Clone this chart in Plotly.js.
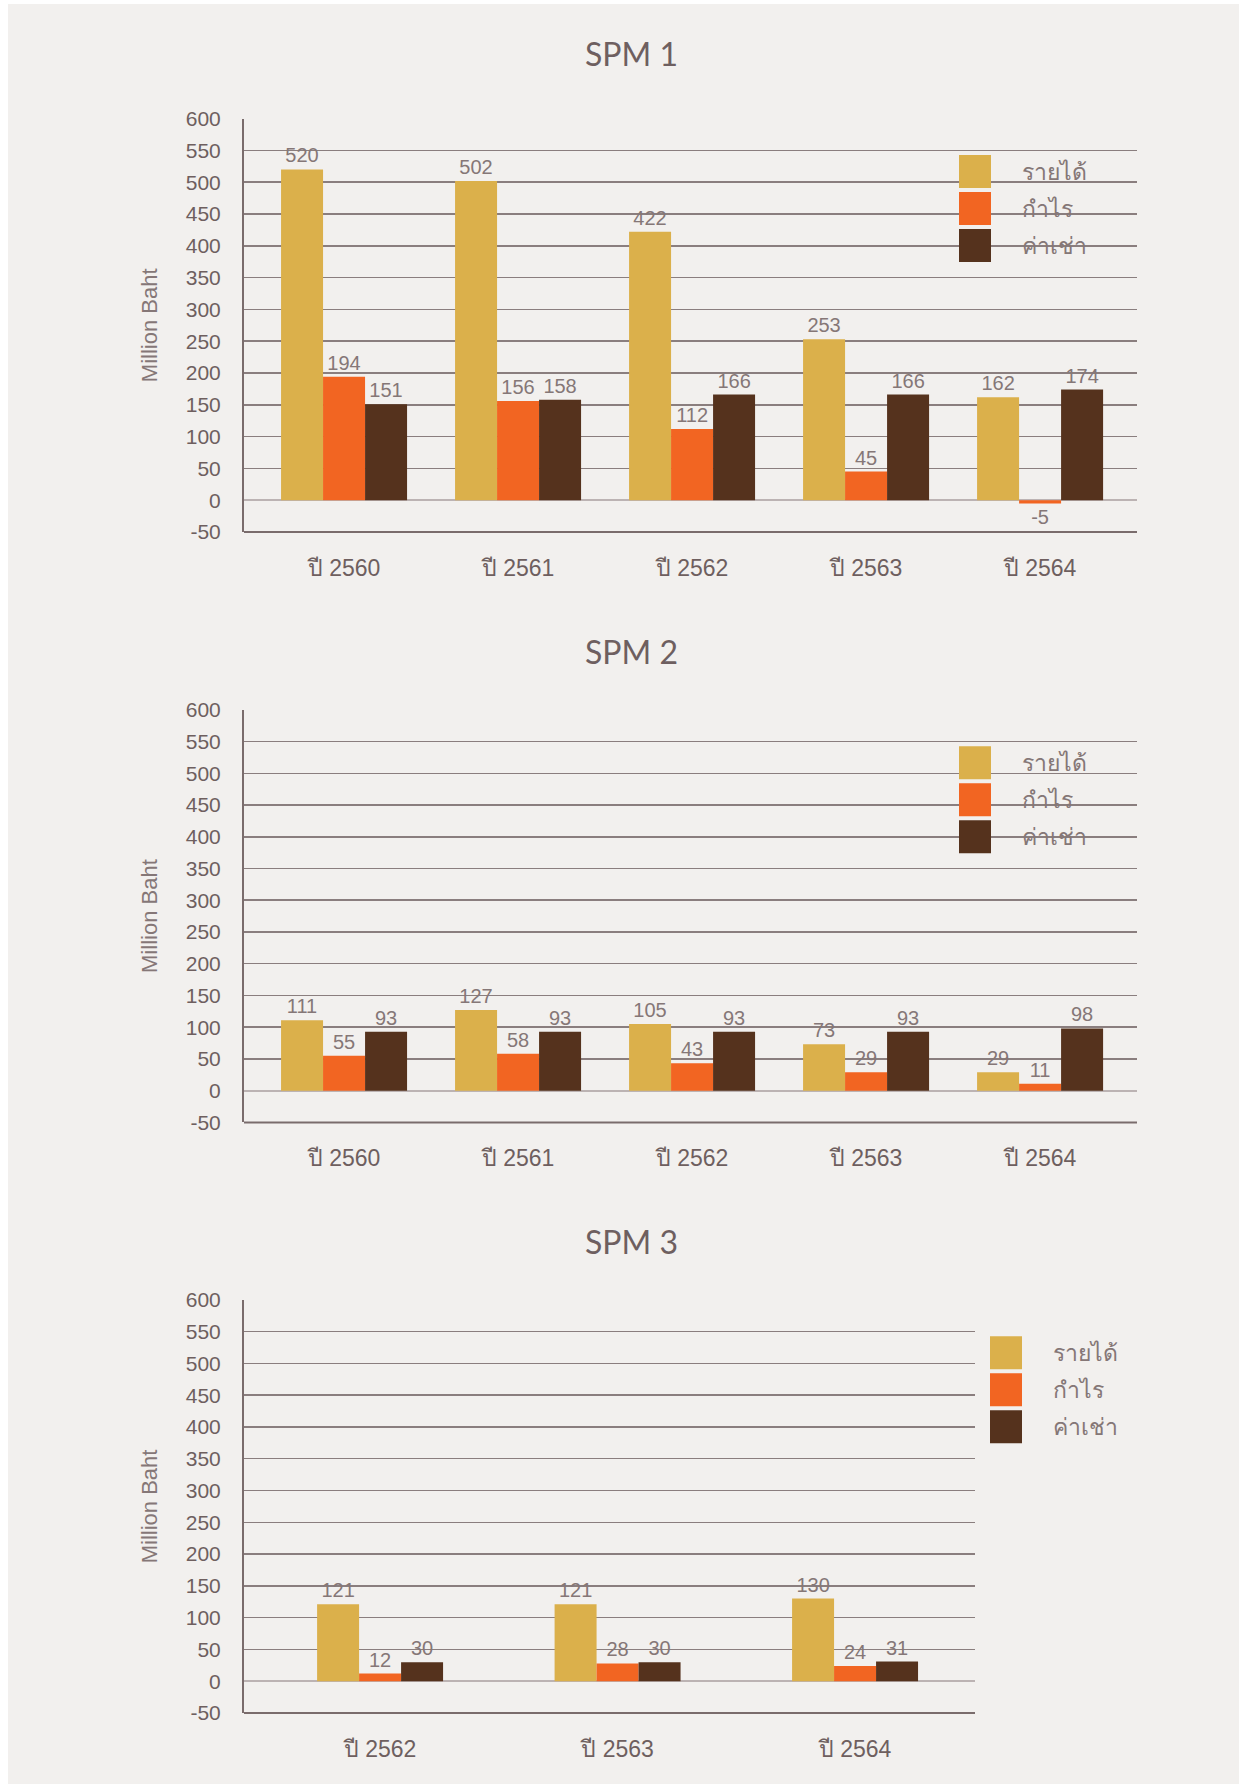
<!DOCTYPE html>
<html>
<head>
<meta charset="utf-8">
<script src="https://cdn.plot.ly/plotly-3.0.1.min.js"></script>
<style>
html,body{margin:0;padding:0;background:#ffffff;}
#chart{width:1253px;height:1784px;}
</style>
</head>
<body>
<div id="chart"></div>
<script>
// ---- Data ----
const seriesNames = ['รายได้', 'กำไร', 'ค่าเช่า'];
const seriesColors = ['#dbb04b', '#f26522', '#55321d'];

const spm1Title = 'SPM 1';
const spm1Categories = ['ปี 2560', 'ปี 2561', 'ปี 2562', 'ปี 2563', 'ปี 2564'];
const spm1Revenue = [520, 502, 422, 253, 162];
const spm1Profit = [194, 156, 112, 45, -5];
const spm1Rent = [151, 158, 166, 166, 174];

const spm2Title = 'SPM 2';
const spm2Categories = ['ปี 2560', 'ปี 2561', 'ปี 2562', 'ปี 2563', 'ปี 2564'];
const spm2Revenue = [111, 127, 105, 73, 29];
const spm2Profit = [55, 58, 43, 29, 11];
const spm2Rent = [93, 93, 93, 93, 98];

const spm3Title = 'SPM 3';
const spm3Categories = ['ปี 2562', 'ปี 2563', 'ปี 2564'];
const spm3Revenue = [121, 121, 130];
const spm3Profit = [12, 28, 24];
const spm3Rent = [30, 30, 31];

const yTickVals = [-50, 0, 50, 100, 150, 200, 250, 300, 350, 400, 450, 500, 550, 600];
const yAxisTitle = 'Million Baht';

// ---- Layout geometry (pixels) ----
const W = 1253, H = 1784;
const TEXT = '#6e5f5f';
const LABEL = '#857777';
const GRID = '#8a7e7e';

const panels = [
  {title: spm1Title, cats: spm1Categories, vals: [spm1Revenue, spm1Profit, spm1Rent],
   top: 118.6, bottom: 532, left: 244, right: 1137, titleY: 53.6, barW: 0.2414,
   xr: [-0.575, 4.557], legX: 959, legTextX: 1020},
  {title: spm2Title, cats: spm2Categories, vals: [spm2Revenue, spm2Profit, spm2Rent],
   top: 709.8, bottom: 1122.4, left: 244, right: 1137, titleY: 651.7, barW: 0.2414,
   xr: [-0.575, 4.557], legX: 959, legTextX: 1020},
  {title: spm3Title, cats: spm3Categories, vals: [spm3Revenue, spm3Profit, spm3Rent],
   top: 1299.8, bottom: 1713, left: 244, right: 975, titleY: 1241, barW: 0.1768,
   xr: [-0.573, 2.505], legX: 990, legTextX: 1051}
];

const px = x => x / W;
const py = y => 1 - y / H;

const data = [];
const layout = {
  width: W, height: H,
  margin: {l: 0, r: 0, t: 0, b: 0},
  paper_bgcolor: '#ffffff',
  plot_bgcolor: 'rgba(0,0,0,0)',
  barmode: 'overlay',
  showlegend: false,
  font: {family: 'Liberation Sans, Arial, sans-serif', color: TEXT},
  shapes: [{
    type: 'rect', xref: 'paper', yref: 'paper', layer: 'below',
    x0: px(8), x1: px(1239), y0: 0, y1: py(4),
    fillcolor: '#f2f0ee', line: {width: 0}
  }],
  annotations: []
};

panels.forEach((p, i) => {
  const n = i === 0 ? '' : String(i + 1);
  const xa = 'x' + n, ya = 'y' + n;
  p.vals.forEach((v, s) => {
    data.push({
      type: 'bar', name: seriesNames[s], x: p.cats, y: v,
      xaxis: xa, yaxis: ya,
      width: p.barW, offset: (s - 1.5) * p.barW,
      marker: {color: seriesColors[s], line: {width: 0}},
      text: v.map(String), textposition: 'outside', constraintext: 'none',
      cliponaxis: false,
      textfont: {family: 'Liberation Sans, Arial, sans-serif', size: 20, color: LABEL},
      hoverinfo: 'x+y+name'
    });
  });
  layout['xaxis' + n] = {
    domain: [px(p.left), px(p.right)], anchor: ya,
    type: 'category', range: p.xr,
    showgrid: false, zeroline: false, showline: false, ticks: '',
    ticklabelstandoff: 20,
    tickfont: {family: 'Liberation Sans, Arial, sans-serif', size: 23, color: TEXT},
    fixedrange: true
  };
  layout['yaxis' + n] = {
    domain: [py(p.bottom), py(p.top)], anchor: xa,
    range: [-50, 600], tickvals: yTickVals, ticktext: yTickVals.map(String),
    showgrid: true, gridcolor: GRID, gridwidth: 1.5,
    zeroline: true, zerolinecolor: '#bcb3b3', zerolinewidth: 2,
    showline: true, linecolor: '#7a6c6c', linewidth: 2, mirror: false,
    ticks: '', ticklabelstandoff: 17,
    tickfont: {family: 'Liberation Sans, Arial, sans-serif', size: 21, color: TEXT},
    title: {text: yAxisTitle, standoff: 22,
            font: {family: 'Liberation Sans, Arial, sans-serif', size: 22, color: LABEL}},
    fixedrange: true
  };
  // bottom axis line at -50
  layout.shapes.push({
    type: 'line', xref: 'paper', yref: 'paper',
    x0: px(p.left), x1: px(p.right), y0: py(p.bottom), y1: py(p.bottom),
    line: {color: '#7a6c6c', width: 2}
  });
  // chart title
  layout.annotations.push({
    text: p.title, xref: 'paper', yref: 'paper', x: px(631), y: py(p.titleY),
    xanchor: 'center', yanchor: 'middle', showarrow: false,
    font: {family: 'Lato, Open Sans, sans-serif', size: 32, color: '#6e5f60'}
  });
  // legend
  seriesNames.forEach((name, s) => {
    const y0 = p.top + 36.4 + s * 37;
    layout.shapes.push({
      type: 'rect', xref: 'paper', yref: 'paper',
      x0: px(p.legX), x1: px(p.legX + 32), y0: py(y0 + 33), y1: py(y0),
      fillcolor: seriesColors[s], line: {width: 0}
    });
    layout.annotations.push({
      text: name, xref: 'paper', yref: 'paper', x: px(p.legTextX), y: py(y0 + 17),
      xanchor: 'left', yanchor: 'middle', showarrow: false,
      font: {family: 'Liberation Sans, Arial, sans-serif', size: 23, color: LABEL}
    });
  });
});

Plotly.newPlot('chart', data, layout, {displayModeBar: false, staticPlot: true});
</script>
</body>
</html>
